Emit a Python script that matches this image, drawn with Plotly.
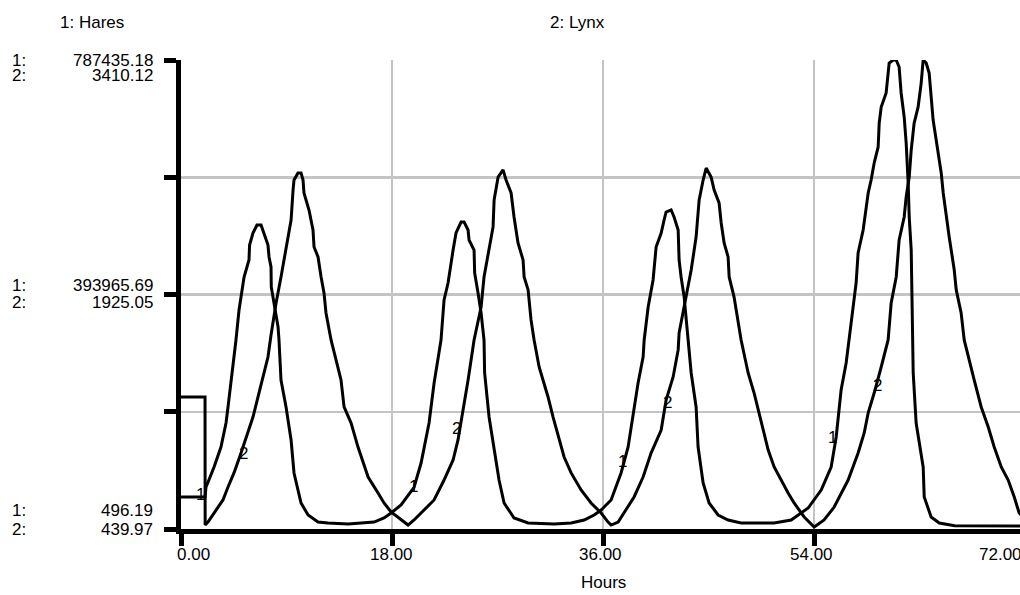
import plotly.graph_objects as go

# ---------------- data ----------------
hare_hours = [0, 2.05, 2.13, 2.82, 3.41, 3.84, 4.01, 4.27, 4.52, 4.69, 4.95, 5.12, 5.38, 5.80, 5.85,
              6.14, 6.48, 6.83, 7.08, 7.42, 7.51, 7.68, 7.70, 7.94, 8.28, 8.36, 8.53, 8.96, 9.39, 9.64,
              10.24, 10.84, 11.69, 12.54, 14.25, 15.36, 16.47, 17.32, 17.92, 18.77, 19.88, 20.48, 21.16,
              21.59, 22.01, 22.18, 22.44, 22.78, 23.21, 23.46, 23.89, 24.15, 24.49, 24.57, 25.00, 25.05,
              25.34, 25.60, 25.85, 25.90, 26.28, 26.71, 27.13, 27.56, 28.41, 29.61, 31.83, 33.28, 34.39,
              35.24, 35.84, 36.69, 37.54, 38.14, 38.57, 38.99, 39.42, 39.51, 39.85, 40.27, 40.53, 40.96,
              41.21, 41.38, 41.81, 42.06, 42.41, 42.45, 42.49, 42.66, 42.92, 43.26, 43.52, 43.94, 44.11,
              44.54, 45.05, 45.82, 46.67, 47.78, 50.60, 52.05, 53.50, 54.61, 55.46, 55.89, 56.06, 56.31,
              56.74, 57.00, 57.34, 57.59, 57.76, 58.19, 58.62, 58.87, 59.13, 59.47, 59.56, 59.73, 60.15,
              60.32, 60.41, 60.75, 61.01, 61.26, 61.43, 61.69, 61.86, 62.03, 62.12, 62.29, 62.37, 62.46,
              62.71, 63.31, 63.40, 63.99, 64.68, 66.00, 71.67]
hares_thousands = [54.2, 54.2, 70.5, 104.5, 138.1, 178.4, 205.2, 245.5, 289.1, 317.6, 368.0, 389.8, 423.3,
                   451.9, 477.0, 497.2, 510.6, 510.6, 497.2, 477.0, 456.9, 440.1, 406.6, 379.7, 339.4, 317.6,
                   250.5, 205.2, 149.8, 94.5, 44.1, 24.0, 12.2, 10.6, 8.9, 10.6, 12.2, 19.0, 27.3, 40.8, 70.5,
                   111.2, 178.4, 245.5, 295.8, 317.6, 384.8, 413.3, 468.6, 497.2, 515.6, 515.6, 502.2, 485.4,
                   468.6, 430.1, 396.5, 362.9, 317.6, 262.3, 188.4, 138.1, 82.7, 44.1, 19.0, 10.6, 8.9, 10.6,
                   15.6, 24.0, 32.4, 49.2, 94.5, 138.1, 195.1, 245.5, 289.1, 317.6, 373.0, 418.3, 473.7, 497.2,
                   519.0, 532.4, 535.8, 524.0, 502.2, 473.7, 451.9, 423.3, 389.8, 317.6, 262.3, 205.2, 138.1,
                   77.7, 44.1, 24.0, 15.6, 10.6, 10.6, 15.6, 35.7, 65.9, 104.5, 154.9, 188.4, 233.7, 279.0,
                   317.6, 368.0, 413.3, 463.6, 502.2, 564.3, 586.1, 614.6, 641.5, 681.8, 708.6, 732.1, 758.9,
                   782.4, 787.4, 787.4, 775.7, 732.1, 691.8, 648.2, 581.1, 524.0, 468.6, 317.6, 262.3, 178.4,
                   104.5, 54.2, 20.6, 10.6, 6.0, 5.5]

lynx_hours = [0, 2.05, 2.06, 2.30, 2.82, 3.58, 4.01, 4.52, 5.12, 5.72, 6.14, 6.57, 7.00, 7.42, 7.68, 8.11,
              8.53, 8.96, 9.39, 9.56, 9.64, 9.98, 10.24, 10.41, 10.49, 10.92, 11.26, 11.35, 11.69, 11.95,
              12.20, 12.37, 12.80, 13.23, 13.65, 13.91, 14.51, 15.10, 15.53, 15.96, 16.81, 17.32, 17.92,
              18.77, 19.37, 19.88, 20.73, 21.59, 22.44, 23.21, 23.63, 23.89, 24.49, 25.00, 25.60, 25.85,
              26.28, 26.62, 26.71, 27.05, 27.47, 27.73, 28.16, 28.41, 28.75, 29.18, 29.27, 29.61, 29.86,
              30.12, 30.55, 31.31, 31.74, 32.25, 32.68, 33.28, 34.13, 34.98, 35.84, 36.43, 36.69, 37.29,
              37.80, 38.65, 39.42, 40.10, 40.96, 41.38, 41.98, 42.41, 42.49, 42.92, 43.52, 43.94, 44.20,
              44.54, 44.80, 45.22, 45.48, 45.90, 46.08, 46.33, 46.67, 46.76, 47.18, 47.78, 48.38, 48.89,
              49.49, 50.09, 50.60, 51.19, 51.79, 52.30, 53.16, 54.01, 54.86, 55.72, 56.91, 57.76, 58.28,
              58.62, 59.13, 59.73, 60.32, 60.58, 61.01, 61.26, 61.69, 61.86, 62.12, 62.29, 62.54, 62.88,
              63.14, 63.31, 63.57, 63.82, 63.99, 64.16, 64.42, 64.68, 64.85, 65.02, 65.27, 65.53, 65.70,
              65.96, 66.13, 66.55, 66.81, 67.15, 67.66, 68.26, 68.86, 69.37, 69.97, 70.56, 71.08, 71.50,
              71.67]
lynx = [1276, 1276, 465, 484, 541, 624, 706, 795, 921, 1048, 1149, 1276, 1403, 1529, 1669, 1871, 2036,
        2226, 2397, 2587, 2650, 2695, 2695, 2650, 2568, 2460, 2334, 2226, 2163, 2036, 1935, 1808, 1637,
        1510, 1384, 1213, 1111, 959, 858, 769, 668, 605, 548, 497, 465, 497, 560, 624, 750, 877, 1004,
        1118, 1384, 1637, 1846, 2036, 2207, 2353, 2524, 2669, 2714, 2650, 2568, 2416, 2251, 2144, 2036,
        1954, 1764, 1637, 1466, 1276, 1149, 1004, 896, 795, 687, 605, 541, 484, 465, 484, 541, 643, 769,
        921, 1067, 1257, 1403, 1574, 1681, 1846, 2080, 2289, 2524, 2650, 2726, 2669, 2587, 2505, 2378,
        2251, 2163, 2036, 1909, 1637, 1428, 1301, 1111, 940, 833, 750, 668, 605, 516, 453, 497, 579, 750,
        921, 1048, 1175, 1301, 1466, 1637, 1871, 2036, 2270, 2416, 2543, 2669, 2840, 3011, 3113, 3264,
        3410, 3391, 3328, 3201, 3030, 2904, 2777, 2695, 2568, 2416, 2289, 2207, 2080, 1954, 1808, 1637,
        1529, 1384, 1213, 1086, 959, 833, 750, 643, 541, 529]

hares = [v * 1000 for v in hares_thousands]

hares_min, hares_max = 496.19, 787435.18
lynx_min, lynx_max = 439.97, 3410.12
hares_ticklabels = ["787435.18", "393965.69", "496.19"]
lynx_ticklabels = ["3410.12", "1925.05", "439.97"]
x_tickvals = [0, 18, 36, 54, 72]
x_ticktext = ["0.00", "18.00", "36.00", "54.00", "72.00"]
series_names = ["1: Hares", "2: Lynx"]
x_title = "Hours"
# curve number labels (hours, which curve)
curve_label_hours = [1.70, 5.37, 19.85, 23.52, 37.66, 41.50, 55.56, 59.39]
curve_label_text = ["1", "2", "1", "2", "1", "2", "1", "2"]

# ---------------- figure ----------------
FONT = "Liberation Sans, Arial, sans-serif"
X_MAX = 71.57
fig = go.Figure()
fig.add_trace(go.Scatter(x=hare_hours, y=hares, mode="lines", yaxis="y",
                         line=dict(color="black", width=3), showlegend=False, hoverinfo="skip"))
fig.add_trace(go.Scatter(x=lynx_hours, y=lynx, mode="lines", yaxis="y2",
                         line=dict(color="black", width=3), showlegend=False, hoverinfo="skip"))

quarter = (hares_max - hares_min) / 4
y_ticks = [hares_min + k * quarter for k in range(5)]

fig.update_layout(
    width=1020, height=595,
    margin=dict(l=181, r=0, t=60, b=66),
    paper_bgcolor="white", plot_bgcolor="white",
    font=dict(family=FONT, size=17, color="black"),
    xaxis=dict(range=[0, X_MAX], tickvals=x_tickvals[:4], ticks="outside", ticklen=12, tickwidth=5,
               tickcolor="black", showticklabels=False, showline=True, linecolor="black", linewidth=5,
               showgrid=True, gridcolor="#c4c4c4", gridwidth=2.5, zeroline=False, fixedrange=True),
    yaxis=dict(range=[hares_min, hares_max], tickvals=y_ticks, ticks="outside", ticklen=12, tickwidth=5,
               tickcolor="black", showticklabels=False, showline=True, linecolor="black", linewidth=5,
               showgrid=True, gridcolor="#c4c4c4", gridwidth=2.5, zeroline=False, fixedrange=True),
    yaxis2=dict(range=[lynx_min, lynx_max], overlaying="y", visible=False, fixedrange=True),
)

ann = []
# series names on top
ann.append(dict(text=series_names[0], xref="paper", yref="paper", x=-0.106, y=1.081,
                showarrow=False, xanchor="center", yanchor="middle"))
ann.append(dict(text=series_names[1], xref="paper", yref="paper", x=0.473, y=1.081,
                showarrow=False, xanchor="center", yanchor="middle"))
# y scale labels
pos_pairs = [(1.0, 0.966), (0.52, 0.482), (0.0405, 0.0)]
for (y1, y2), t1, t2 in zip(pos_pairs, hares_ticklabels, lynx_ticklabels):
    for yy, num, pre in ((y1, t1, "1:"), (y2, t2, "2:")):
        ann.append(dict(text=pre, xref="paper", yref="paper", x=-0.2038, y=yy, showarrow=False,
                        xanchor="left", yanchor="middle"))
        ann.append(dict(text=num, xref="paper", yref="paper", x=-0.031, y=yy, showarrow=False,
                        xanchor="right", yanchor="middle"))
# x tick labels (placed along the x scale; the last lies just past the visible range)
x_shifts = [12, -1, -3, -3, -25]
for v, t, s in zip(x_tickvals, x_ticktext, x_shifts):
    ann.append(dict(text=t, xref="paper", yref="paper", x=v / X_MAX, y=-0.0554, xshift=s,
                    showarrow=False, xanchor="center", yanchor="middle"))
ann.append(dict(text=x_title, xref="paper", yref="paper", x=0.504, y=-0.115, showarrow=False,
                xanchor="center", yanchor="middle"))
# curve number labels
label_y = [0.0725, 0.162, 0.0896, 0.215, 0.143, 0.269, 0.196, 0.307]
for h, t, yy in zip(curve_label_hours, curve_label_text, label_y):
    ann.append(dict(text=t, xref="x", yref="paper", x=h, y=yy, showarrow=False,
                    xanchor="center", yanchor="middle", font=dict(size=17)))
fig.update_layout(annotations=ann)

fig.write_html("out.html", config={"displayModeBar": False, "staticPlot": True},
               post_script="document.body.style.margin='0';")
